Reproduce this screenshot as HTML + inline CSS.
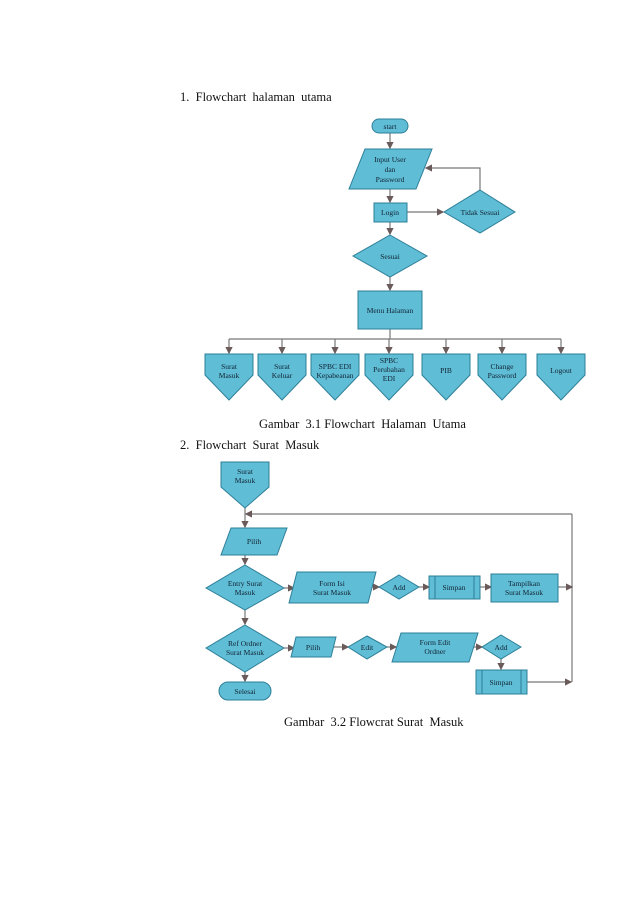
<!DOCTYPE html>
<html><head><meta charset="utf-8"><style>
html,body{margin:0;padding:0;background:#fff;}
svg{display:block}
</style></head><body>
<svg width="638" height="903" viewBox="0 0 638 903" xmlns="http://www.w3.org/2000/svg" font-family="Liberation Serif, serif">
<defs>
<marker id="a" markerWidth="6" markerHeight="6" refX="5" refY="3" orient="auto"><path d="M0,0L6,3L0,6z" fill="#6a5a5a"/></marker>
</defs>
<g font-size="12.5" fill="#111">
<text x="180" y="101">1.&#160;&#160;Flowchart&#160;&#160;halaman&#160;&#160;utama</text>
<text x="259" y="428">Gambar&#160;&#160;3.1 Flowchart&#160;&#160;Halaman&#160;&#160;Utama</text>
<text x="180" y="449">2.&#160;&#160;Flowchart&#160;&#160;Surat&#160;&#160;Masuk</text>
<text x="284" y="726">Gambar&#160;&#160;3.2 Flowcrat Surat&#160;&#160;Masuk</text>
</g>
<g stroke="#777" stroke-width="1.2" fill="none">
<!-- chart 1 -->
<line x1="390" y1="133" x2="390" y2="148" marker-end="url(#a)"/>
<line x1="390" y1="189" x2="390" y2="202" marker-end="url(#a)"/>
<line x1="407" y1="212" x2="443" y2="212" marker-end="url(#a)"/>
<polyline points="480,190 480,168 426,168" marker-end="url(#a)"/>
<line x1="390" y1="222" x2="390" y2="234" marker-end="url(#a)"/>
<line x1="390" y1="277" x2="390" y2="290" marker-end="url(#a)"/>
<line x1="390" y1="329" x2="390" y2="339"/>
<line x1="229" y1="339" x2="561" y2="339"/>
<g marker-end="url(#a)">
<line x1="229" y1="339" x2="229" y2="353"/><line x1="282" y1="339" x2="282" y2="353"/>
<line x1="335" y1="339" x2="335" y2="353"/><line x1="389" y1="339" x2="389" y2="353"/>
<line x1="446" y1="339" x2="446" y2="353"/><line x1="502" y1="339" x2="502" y2="353"/>
<line x1="561" y1="339" x2="561" y2="353"/>
</g>
<!-- chart 2 -->
<line x1="245" y1="508" x2="245" y2="527" marker-end="url(#a)"/>
<polyline points="572,514 246,514" marker-end="url(#a)"/>
<line x1="572" y1="514" x2="572" y2="682"/>
<line x1="245" y1="555" x2="245" y2="564" marker-end="url(#a)"/>
<line x1="284" y1="588" x2="294" y2="588" marker-end="url(#a)"/>
<line x1="372" y1="587" x2="379" y2="587" marker-end="url(#a)"/>
<line x1="419" y1="587" x2="429" y2="587" marker-end="url(#a)"/>
<line x1="480" y1="587" x2="491" y2="587" marker-end="url(#a)"/>
<line x1="558" y1="587" x2="572" y2="587" marker-end="url(#a)"/>
<line x1="245" y1="610" x2="245" y2="624" marker-end="url(#a)"/>
<line x1="284" y1="648" x2="294" y2="648" marker-end="url(#a)"/>
<line x1="333" y1="647" x2="348" y2="647" marker-end="url(#a)"/>
<line x1="387" y1="647" x2="396" y2="647" marker-end="url(#a)"/>
<line x1="474" y1="647" x2="482" y2="647" marker-end="url(#a)"/>
<line x1="501" y1="659" x2="501" y2="669" marker-end="url(#a)"/>
<line x1="527" y1="682" x2="571" y2="682" marker-end="url(#a)"/>
<line x1="245" y1="672" x2="245" y2="681" marker-end="url(#a)"/>
</g>
<g fill="#5fbdd5" stroke="#2e7f98" stroke-width="1">
<rect x="372" y="119" width="36" height="14" rx="7"/>
<polygon points="365,149 432,149 416,189 349,189"/>
<rect x="374" y="203" width="33" height="19"/>
<polygon points="480,190 515,212 480,233 444,212"/>
<polygon points="390,235 427,256 390,277 353,256"/>
<rect x="358" y="291" width="64" height="38"/>
<g id="op">
<polygon points="205,354 253,354 253,375 229,400 205,375"/>
</g>
<polygon points="258,354 306,354 306,375 282,400 258,375"/>
<polygon points="311,354 359,354 359,375 335,400 311,375"/>
<polygon points="365,354 413,354 413,375 389,400 365,375"/>
<polygon points="422,354 470,354 470,375 446,400 422,375"/>
<polygon points="478,354 526,354 526,375 502,400 478,375"/>
<polygon points="537,354 585,354 585,375 561,400 537,375"/>
<polygon points="221,462 269,462 269,487 245,508 221,487"/>
<polygon points="231,528 287,528 277,555 221,555"/>
<polygon points="245,565 284,588 245,610 206,588"/>
<polygon points="297,572 376,572 368,603 289,603"/>
<polygon points="399,575 419,587 399,599 379,587"/>
<rect x="429" y="576" width="51" height="23"/>
<rect x="491" y="574" width="67" height="28"/>
<polygon points="245,625 284,648 245,672 206,648"/>
<polygon points="296,637 336,637 331,657 291,657"/>
<polygon points="367,636 387,647 367,659 348,647"/>
<polygon points="401,633 478,633 469,662 392,662"/>
<polygon points="501,635 521,647 501,659 482,647"/>
<rect x="476" y="670" width="51" height="24"/>
<rect x="219" y="682" width="52" height="18" rx="9"/>
</g>
<g stroke="#2e7f98" stroke-width="1">
<line x1="435" y1="576" x2="435" y2="599"/><line x1="474" y1="576" x2="474" y2="599"/>
<line x1="482" y1="670" x2="482" y2="694"/><line x1="521" y1="670" x2="521" y2="694"/>
</g>
<g font-size="7.5" fill="#123" text-anchor="middle">
<text x="390" y="129">start</text>
<text x="390" y="162">Input User</text><text x="390" y="172">dan</text><text x="390" y="182">Password</text>
<text x="390" y="215">Login</text>
<text x="480" y="215">Tidak Sesuai</text>
<text x="390" y="259">Sesuai</text>
<text x="390" y="313">Menu Halaman</text>
<text x="229" y="369">Surat</text><text x="229" y="378">Masuk</text>
<text x="282" y="369">Surat</text><text x="282" y="378">Keluar</text>
<text x="335" y="369">SPBC EDI</text><text x="335" y="378">Kepabeanan</text>
<text x="389" y="363">SPBC</text><text x="389" y="372">Perubahan</text><text x="389" y="381">EDI</text>
<text x="446" y="373">PIB</text>
<text x="502" y="369">Change</text><text x="502" y="378">Password</text>
<text x="561" y="373">Logout</text>
<text x="245" y="474">Surat</text><text x="245" y="483">Masuk</text>
<text x="254" y="544">Pilih</text>
<text x="245" y="586">Entry Surat</text><text x="245" y="595">Masuk</text>
<text x="332" y="586">Form Isi</text><text x="332" y="595">Surat Masuk</text>
<text x="399" y="590">Add</text>
<text x="454" y="590">Simpan</text>
<text x="524" y="586">Tampilkan</text><text x="524" y="595">Surat Masuk</text>
<text x="245" y="646">Ref Ordner</text><text x="245" y="655">Surat Masuk</text>
<text x="313" y="650">Pilih</text>
<text x="367" y="650">Edit</text>
<text x="435" y="645">Form Edit</text><text x="435" y="654">Ordner</text>
<text x="501" y="650">Add</text>
<text x="501" y="685">Simpan</text>
<text x="245" y="694">Selesai</text>
</g>
</svg>
</body></html>
